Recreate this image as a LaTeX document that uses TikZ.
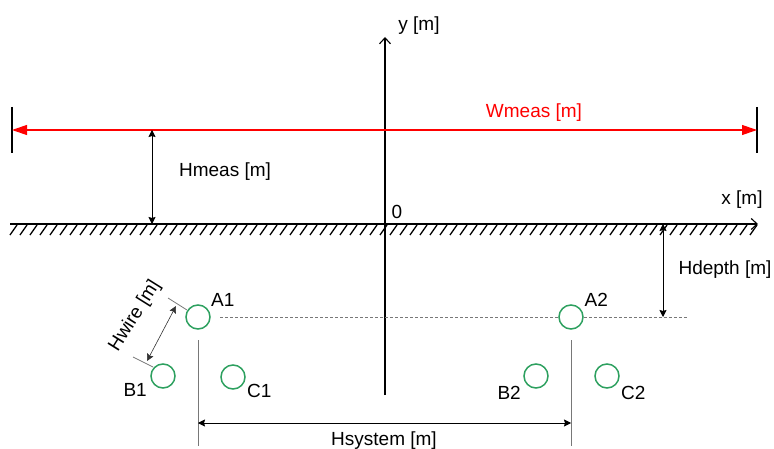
\documentclass[tikz,border=0pt]{standalone}
\usepackage{fontspec}
\setmainfont{Liberation Sans}
\usetikzlibrary{arrows.meta,positioning}
\definecolor{wiregreen}{RGB}{45,160,95}
\definecolor{dimgray}{RGB}{120,120,120}

\begin{document}
\begin{tikzpicture}[x=1pt, y=1pt,
  wire/.style = {draw=wiregreen, circle, line width=1.5pt, minimum size=24pt, inner sep=0pt},
  txt/.style = {inner sep=0pt, font=\fontsize{19}{21}\selectfont},
  axis/.style = {-{Straight Barb[length=6pt,width=11pt]}, line width=1.1pt},
  dim/.style = {{Stealth[length=7pt,width=7pt,inset=1pt]}-{Stealth[length=7pt,width=7pt,inset=1pt]}, line width=0.6pt}]
\useasboundingbox (0,0) rectangle (774,448);

% ground and axes
\coordinate (gl) at (10,224);
\coordinate (gr) at (758,224);
\coordinate (yb) at (385,53);
\coordinate (yt) at (385,411);
\draw[axis] (gl) -- (gr);
\foreach \x in {10,20,...,750}
  \draw[line width=1.3pt] (\x,213) -- (\x+7,223);
\draw[axis] (yb) -- (yt);
\node[txt] (ylab) at (419,422) {y [m]};
\node[txt] (xlab) at (742,248) {x [m]};
\node[txt] (orig) at (397,236) {0};

% measuring line
\coordinate (wl) at (12,318);
\coordinate (wr) at (757,318);
\coordinate (wlt) at (12,341);
\coordinate (wlb) at (12,295);
\coordinate (wrt) at (757,341);
\coordinate (wrb) at (757,295);
\draw[line width=1.1pt] (wlt) -- (wlb);
\draw[line width=1.1pt] (wrt) -- (wrb);
\draw[red, line width=1.1pt, {Triangle[length=15pt,width=10pt]}-{Triangle[length=15pt,width=10pt]}] (wl) -- (wr);
\node[txt, text=red] (wmeas) at (534,335) {Wmeas [m]};

% Hmeas
\coordinate (hmt) at (152,318);
\coordinate (hmb) at (152,224);
\draw[dim] (hmt) -- (hmb);
\node[txt] (hmeas) at (225,276) {Hmeas [m]};

% wires
\node[wire] (A1) at (198,131) {};
\node[wire] (B1) at (163,72) {};
\node[wire] (C1) at (233,71) {};
\node[wire] (A2) at (571,131) {};
\node[wire] (B2) at (536,72) {};
\node[wire] (C2) at (607,72) {};
\node[txt] (lA1) [above right=1pt and 4pt of A1] {A1};
\node[txt] (lB1) [below left=-2pt and 7pt of B1] {B1};
\node[txt] (lC1) [below right=-2pt and 5pt of C1] {C1};
\node[txt] (lA2) [above right=1pt and 4.5pt of A2] {A2};
\node[txt] (lB2) [below left=1pt and 6pt of B2] {B2};
\node[txt] (lC2) [below right=1pt and 5pt of C2] {C2};

% Hdepth
\coordinate (ds) at (220,131);
\coordinate (de) at (688,131);
\coordinate (hdt) at (663,224);
\coordinate (hdb) at (663,131);
\draw[dimgray, line width=0.6pt, dash pattern=on 3pt off 2pt] (ds) -- (A2.west);
\draw[dimgray, line width=0.6pt, dash pattern=on 3pt off 2pt] (A2.east) -- (de);
\draw[dim] (hdt) -- (hdb);
\node[txt] (hdepth) at (725,178) {Hdepth [m]};

% Hwire
\coordinate (wa1) at (168,150);
\coordinate (wa2) at (187,138);
\coordinate (wb1) at (133,91);
\coordinate (wb2) at (153,81);
\coordinate (wat) at (176,142);
\coordinate (wab) at (147,87);
\draw[dimgray, line width=0.8pt] (wa1) -- (wa2);
\draw[dimgray, line width=0.8pt] (wb1) -- (wb2);
\draw[dim, black!80] (wat) -- (wab);
\node[txt, rotate=58] (hwire) at (135,132) {Hwire [m]};

% Hsystem
\coordinate (s1t) at (198,108);
\coordinate (s1b) at (198,2);
\coordinate (s2t) at (571,108);
\coordinate (s2b) at (571,2);
\coordinate (sl) at (198,25);
\coordinate (sr) at (571,25);
\draw[dimgray, line width=1pt] (s1t) -- (s1b);
\draw[dimgray, line width=1pt] (s2t) -- (s2b);
\draw[dim] (sl) -- (sr);
\node[txt] (hsystem) at (384,7) {Hsystem [m]};
\end{tikzpicture}
\end{document}
